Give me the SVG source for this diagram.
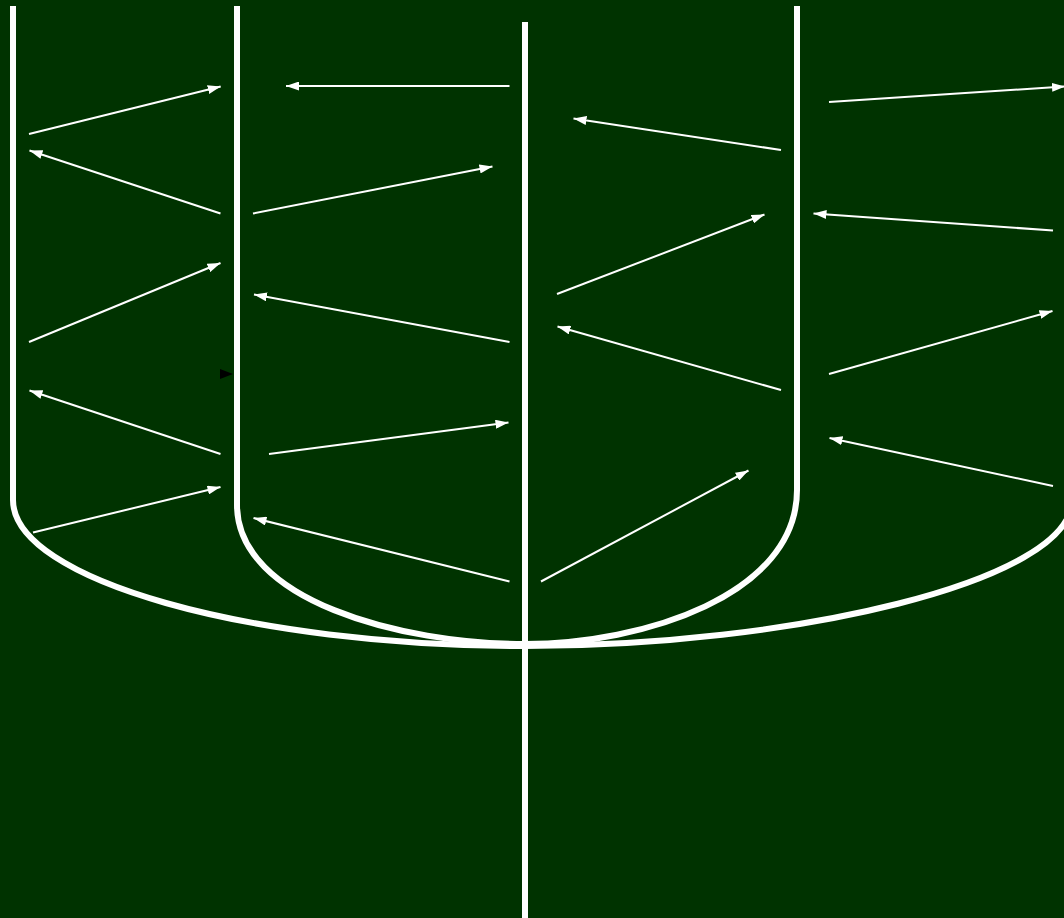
<svg xmlns="http://www.w3.org/2000/svg" width="1064" height="918" viewBox="0 0 1064 918">
  <style>
    .bg { fill: #003300; }
    .track { fill: none; stroke: #ffffff; stroke-width: 6; }
    .arrow { fill: none; stroke: #ffffff; stroke-width: 2; marker-end: url(#head); }
  </style>
  <defs>
    <marker id="head" markerUnits="userSpaceOnUse" markerWidth="13" markerHeight="9" refX="13" refY="4.5" orient="auto">
      <path d="M0,0 L13,4.5 L0,9 z" fill="#ffffff"/>
    </marker>
  </defs>
  <rect class="bg" x="0" y="0" width="1064" height="918"/>
  <g id="tracks">
    <path id="outer-u" class="track" d="M13,6 V500 C13,580 250,646 525,646 C790,646 1072,582 1072,500 V6"/>
    <path id="inner-u" class="track" d="M237,6 V505 C237,600 400,644 525,644 C643,644 797,595 797,490 V6"/>
    <path id="center-line" class="track" d="M525,22 V918"/>
  </g>
  <g id="connectors">
    <line class="arrow" x1="29" y1="134" x2="220.7" y2="86.5"/>
    <line class="arrow" x1="220.5" y1="213.5" x2="29.5" y2="150.5"/>
    <line class="arrow" x1="29" y1="342" x2="220.5" y2="263"/>
    <line class="arrow" x1="220.5" y1="454" x2="29.5" y2="390.5"/>
    <line class="arrow" x1="33" y1="532.5" x2="220.5" y2="487"/>

    <line class="arrow" x1="509.5" y1="86" x2="286" y2="86"/>
    <line class="arrow" x1="253" y1="213.5" x2="492.5" y2="166.5"/>
    <line class="arrow" x1="509.5" y1="342" x2="254" y2="294.5"/>
    <line class="arrow" x1="269" y1="454" x2="508.5" y2="422.5"/>
    <line class="arrow" x1="509.5" y1="581.5" x2="253.5" y2="518"/>

    <line class="arrow" x1="781" y1="150" x2="573.5" y2="118.5"/>
    <line class="arrow" x1="557" y1="294" x2="764.5" y2="214.5"/>
    <line class="arrow" x1="781" y1="390" x2="557.5" y2="326.5"/>
    <line class="arrow" x1="541" y1="581.5" x2="748.5" y2="470.5"/>

    <line class="arrow" x1="829" y1="102" x2="1065" y2="86.5"/>
    <line class="arrow" x1="1053" y1="230.5" x2="813.5" y2="213.5"/>
    <line class="arrow" x1="829" y1="374" x2="1052.5" y2="311"/>
    <line class="arrow" x1="1053" y1="486" x2="829.5" y2="438"/>

    <path id="black-head" d="M220,369 L233,374 L220,379 z" fill="#000000"/>
  </g>
</svg>
